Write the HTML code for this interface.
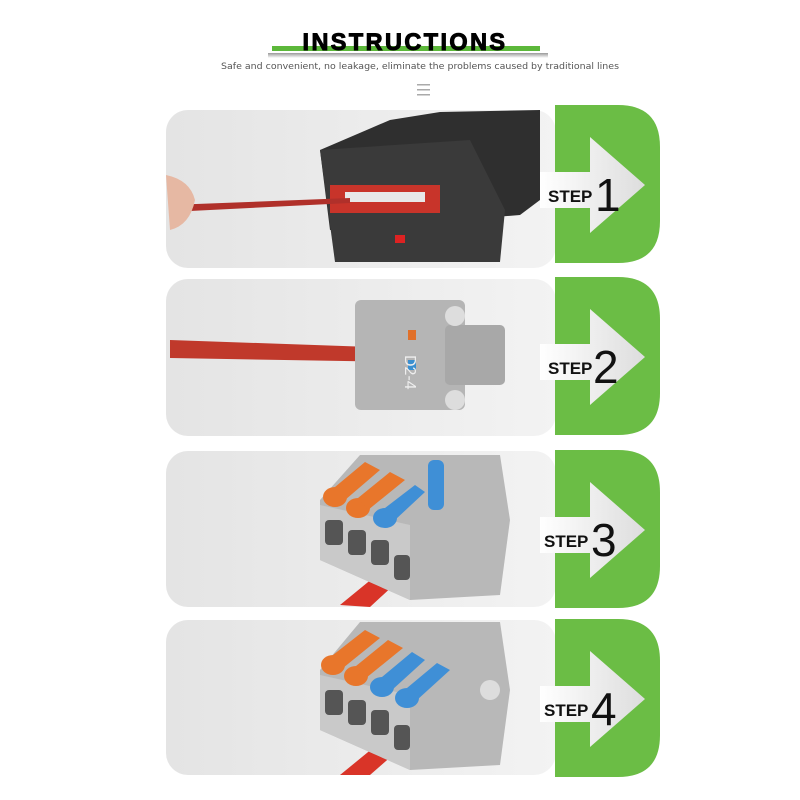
<!DOCTYPE html>
<html><head><meta charset="utf-8"><style>
html,body{margin:0;padding:0;background:#fff;width:800px;height:800px;overflow:hidden}
svg{display:block}
</style></head><body>
<svg width="800" height="800" viewBox="0 0 800 800" xmlns="http://www.w3.org/2000/svg">
<defs>
<linearGradient id="bg" x1="0" y1="0" x2="1" y2="0"><stop offset="0" stop-color="#e4e4e4"/><stop offset="1" stop-color="#f3f3f3"/></linearGradient>
<linearGradient id="sh" x1="0" y1="0" x2="0" y2="1"><stop offset="0" stop-color="#999"/><stop offset="1" stop-color="#fff"/></linearGradient>
<linearGradient id="ar" x1="0" y1="0" x2="1" y2="0"><stop offset="0" stop-color="#fff"/><stop offset="1" stop-color="#ddd"/></linearGradient>
<g id="D">
<path d="M555,0 H618 Q660,0 660,42 V116 Q660,158 618,158 H555 Z" fill="#6bbd45"/>
<path d="M540,67 H590 V32 L645,80 L590,128 V103 H540 Z" fill="url(#ar)"/>
</g>
</defs>
<rect x="272" y="46" width="268" height="5" fill="#5cb83a"/>
<rect x="268" y="53" width="280" height="5" fill="url(#sh)"/>
<text x="405" y="50" text-anchor="middle" font-family="Liberation Sans, sans-serif" font-weight="900" font-size="24" letter-spacing="2.5" fill="#000" stroke="#000" stroke-width="1" textLength="205" lengthAdjust="spacingAndGlyphs">INSTRUCTIONS</text>
<text x="420" y="69" text-anchor="middle" font-family="DejaVu Sans, sans-serif" font-size="8.5" fill="#555" textLength="398" lengthAdjust="spacingAndGlyphs">Safe and convenient, no leakage, eliminate the problems caused by traditional lines</text>
<rect x="417" y="84" width="13" height="1.5" fill="#aaa"/><rect x="417" y="89" width="13" height="1.5" fill="#aaa"/><rect x="417" y="94" width="13" height="1.5" fill="#aaa"/>

<!-- panel 1 -->
<rect x="166" y="110" width="390" height="158" rx="22" fill="url(#bg)"/>
<path d="M390,120 L440,112 L540,110 L540,200 L520,215 L330,230 L320,150 Z" fill="#2f2f2f"/>
<path d="M320,150 L470,140 L505,210 L500,262 L335,262 Z" fill="#3a3a3a"/>
<rect x="330" y="185" width="110" height="28" fill="#c8342a"/>
<rect x="345" y="192" width="80" height="10" fill="#e8e8e8"/>
<path d="M170,205 L350,198 L350,203 L170,212 Z" fill="#b0302a"/>
<path d="M166,175 Q190,180 195,200 Q190,225 170,230 Z" fill="#e6b8a3"/>
<rect x="395" y="235" width="10" height="8" fill="#d22"/>
<!-- panel 2 -->
<rect x="166" y="279" width="390" height="157" rx="22" fill="url(#bg)"/>
<path d="M170,340 L400,348 L400,362 L170,358 Z" fill="#c0392b"/>
<rect x="355" y="300" width="110" height="110" rx="6" fill="#b5b5b5"/>
<rect x="445" y="325" width="60" height="60" rx="5" fill="#a8a8a8"/>
<circle cx="455" cy="316" r="10" fill="#ddd"/><circle cx="455" cy="400" r="10" fill="#ddd"/>
<rect x="408" y="330" width="8" height="10" fill="#e0702a"/><rect x="408" y="360" width="8" height="10" fill="#3a8fd0"/>
<text x="420" y="370" font-family="Liberation Sans, sans-serif" font-size="16" fill="#eee" transform="rotate(90 420 355)">D2-4</text>
<!-- panel 3 -->
<rect x="166" y="451" width="390" height="156" rx="22" fill="url(#bg)"/>
<path d="M340,605 L395,560 L410,570 L370,607 Z" fill="#d93428"/>
<path d="M320,500 L360,455 L500,455 L510,520 L500,595 L410,600 L320,560 Z" fill="#b8b8b8"/>
<path d="M320,505 L410,525 L410,600 L320,560 Z" fill="#c9c9c9"/>
<rect x="325" y="520" width="18" height="25" rx="4" fill="#555"/><rect x="348" y="530" width="18" height="25" rx="4" fill="#555"/><rect x="371" y="540" width="18" height="25" rx="4" fill="#555"/><rect x="394" y="555" width="16" height="25" rx="4" fill="#555"/>
<ellipse cx="335" cy="497" rx="12" ry="10" fill="#e8762b"/><ellipse cx="358" cy="508" rx="12" ry="10" fill="#e8762b"/><ellipse cx="385" cy="518" rx="12" ry="10" fill="#3f8fd6"/>
<path d="M335,487 L365,462 L380,470 L345,500 Z" fill="#e8762b"/><path d="M358,498 L390,472 L405,480 L368,510 Z" fill="#e8762b"/><path d="M385,508 L415,485 L425,492 L395,520 Z" fill="#3f8fd6"/>
<rect x="428" y="460" width="16" height="50" rx="6" fill="#3f8fd6"/>
<!-- panel 4 -->
<rect x="166" y="620" width="390" height="155" rx="22" fill="url(#bg)"/>
<path d="M340,775 L395,730 L410,740 L370,775 Z" fill="#d93428"/>
<path d="M320,670 L360,622 L500,622 L510,690 L500,765 L410,770 L320,730 Z" fill="#b8b8b8"/>
<path d="M320,675 L410,695 L410,770 L320,730 Z" fill="#c9c9c9"/>
<rect x="325" y="690" width="18" height="25" rx="4" fill="#555"/><rect x="348" y="700" width="18" height="25" rx="4" fill="#555"/><rect x="371" y="710" width="18" height="25" rx="4" fill="#555"/><rect x="394" y="725" width="16" height="25" rx="4" fill="#555"/>
<ellipse cx="333" cy="665" rx="12" ry="10" fill="#e8762b"/><ellipse cx="356" cy="676" rx="12" ry="10" fill="#e8762b"/><ellipse cx="382" cy="687" rx="12" ry="10" fill="#3f8fd6"/><ellipse cx="407" cy="698" rx="12" ry="10" fill="#3f8fd6"/>
<path d="M333,655 L365,630 L380,638 L343,668 Z" fill="#e8762b"/><path d="M356,666 L388,640 L403,648 L366,678 Z" fill="#e8762b"/><path d="M382,677 L412,652 L425,660 L392,690 Z" fill="#3f8fd6"/><path d="M407,688 L437,663 L450,670 L417,700 Z" fill="#3f8fd6"/>
<circle cx="490" cy="690" r="10" fill="#ddd"/>

<g transform="translate(0,105)"><use href="#D"/><text x="548" y="97" font-family="Liberation Sans, sans-serif" font-weight="bold" font-size="17" fill="#111">STEP</text><text x="595" y="106" font-family="Liberation Sans, sans-serif" font-size="46" fill="#111">1</text></g>
<g transform="translate(0,277)"><use href="#D"/><text x="548" y="97" font-family="Liberation Sans, sans-serif" font-weight="bold" font-size="17" fill="#111">STEP</text><text x="593" y="106" font-family="Liberation Sans, sans-serif" font-size="46" fill="#111">2</text></g>
<g transform="translate(0,450)"><use href="#D"/><text x="544" y="97" font-family="Liberation Sans, sans-serif" font-weight="bold" font-size="17" fill="#111">STEP</text><text x="591" y="106" font-family="Liberation Sans, sans-serif" font-size="46" fill="#111">3</text></g>
<g transform="translate(0,619)"><use href="#D"/><text x="544" y="97" font-family="Liberation Sans, sans-serif" font-weight="bold" font-size="17" fill="#111">STEP</text><text x="591" y="106" font-family="Liberation Sans, sans-serif" font-size="46" fill="#111">4</text></g>
</svg>
</body></html>
